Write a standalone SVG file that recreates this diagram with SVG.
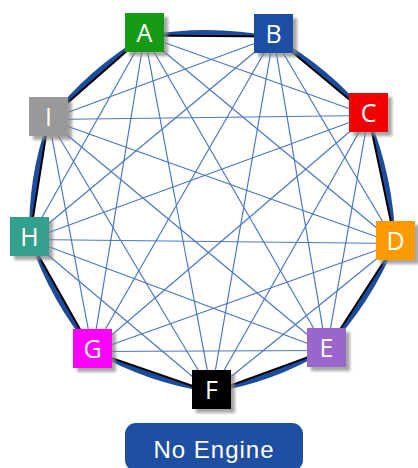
<svg xmlns="http://www.w3.org/2000/svg" width="418" height="468" viewBox="0 0 418 468">
<defs>
<filter id="sh" x="-20%" y="-20%" width="150%" height="150%">
<feDropShadow dx="4" dy="4" stdDeviation="1.5" flood-color="#888" flood-opacity="0.75"/>
</filter>
<style>
.e{stroke:#4a76c6;stroke-width:1.2;fill:none}
.rim{stroke:#000;stroke-width:2;fill:none}
.cres{fill:#1c4c9e;stroke:none}
.box{filter:url(#sh)}
.lbl{font-family:"Open Sans","DejaVu Sans",sans-serif;font-size:25px;fill:#fff;text-anchor:middle}
.btn{font-family:"Liberation Sans",Arial,sans-serif;font-size:24px;fill:#fff;text-anchor:middle;letter-spacing:1px}
</style>
</defs>
<rect width="418" height="468" fill="#fff"/>
<g id="connectors">
<g id="chords">
<line class="e" x1="144.5" y1="35.5" x2="368.5" y2="115.5"/>
<line class="e" x1="144.5" y1="35.5" x2="395.5" y2="243.5"/>
<line class="e" x1="144.5" y1="35.5" x2="326.5" y2="350.5"/>
<line class="e" x1="144.5" y1="35.5" x2="211.5" y2="392.5"/>
<line class="e" x1="144.5" y1="35.5" x2="92.5" y2="351.5"/>
<line class="e" x1="144.5" y1="35.5" x2="29.5" y2="239.5"/>
<line class="e" x1="273.5" y1="36.5" x2="395.5" y2="243.5"/>
<line class="e" x1="273.5" y1="36.5" x2="326.5" y2="350.5"/>
<line class="e" x1="273.5" y1="36.5" x2="211.5" y2="392.5"/>
<line class="e" x1="273.5" y1="36.5" x2="92.5" y2="351.5"/>
<line class="e" x1="273.5" y1="36.5" x2="29.5" y2="239.5"/>
<line class="e" x1="273.5" y1="36.5" x2="48.5" y2="119.5"/>
<line class="e" x1="368.5" y1="115.5" x2="326.5" y2="350.5"/>
<line class="e" x1="368.5" y1="115.5" x2="211.5" y2="392.5"/>
<line class="e" x1="368.5" y1="115.5" x2="92.5" y2="351.5"/>
<line class="e" x1="368.5" y1="115.5" x2="29.5" y2="239.5"/>
<line class="e" x1="368.5" y1="115.5" x2="48.5" y2="119.5"/>
<line class="e" x1="395.5" y1="243.5" x2="211.5" y2="392.5"/>
<line class="e" x1="395.5" y1="243.5" x2="92.5" y2="351.5"/>
<line class="e" x1="395.5" y1="243.5" x2="29.5" y2="239.5"/>
<line class="e" x1="395.5" y1="243.5" x2="48.5" y2="119.5"/>
<line class="e" x1="326.5" y1="350.5" x2="92.5" y2="351.5"/>
<line class="e" x1="326.5" y1="350.5" x2="29.5" y2="239.5"/>
<line class="e" x1="326.5" y1="350.5" x2="48.5" y2="119.5"/>
<line class="e" x1="211.5" y1="392.5" x2="29.5" y2="239.5"/>
<line class="e" x1="211.5" y1="392.5" x2="48.5" y2="119.5"/>
<line class="e" x1="92.5" y1="351.5" x2="48.5" y2="119.5"/>
</g>
<g id="rim">
<path class="cres" d="M144.5 35.5 Q209 24 273.5 36.5 Z"/>
<path class="cres" d="M273.5 36.5 Q328.6 66.7 368.5 115.5 Z"/>
<path class="cres" d="M368.5 115.5 Q393.8 177.3 395.5 243.5 Z"/>
<path class="cres" d="M395.5 243.5 Q371.5 302.9 326.5 350.5 Z"/>
<path class="cres" d="M326.5 350.5 Q273.2 382.8 211.5 392.5 Z"/>
<path class="cres" d="M211.5 392.5 Q147.9 383.3 92.5 351.5 Z"/>
<path class="cres" d="M92.5 351.5 Q50.5 301.4 29.5 239.5 Z"/>
<path class="cres" d="M29.5 239.5 Q27.2 177.3 48.5 119.5 Z"/>
<path class="cres" d="M48.5 119.5 Q88.8 68.3 144.5 35.5 Z"/>
<polygon class="rim" points="144.5,35.5 273.5,36.5 368.5,115.5 395.5,243.5 326.5,350.5 211.5,392.5 92.5,351.5 29.5,239.5 48.5,119.5"/>
</g>
</g>
<g id="A"><rect class="box" x="125" y="13" width="39" height="39" fill="#139a13"/><text class="lbl" x="144.5" y="41.5">A</text></g>
<g id="B"><rect class="box" x="254" y="14" width="39" height="39" fill="#1d4fa4"/><text class="lbl" x="273.5" y="42.5">B</text></g>
<g id="C"><rect class="box" x="349" y="93" width="39" height="39" fill="#f00000"/><text class="lbl" x="368.5" y="121.5">C</text></g>
<g id="D"><rect class="box" x="376" y="221" width="39" height="39" fill="#ff9900"/><text class="lbl" x="395.5" y="249.5">D</text></g>
<g id="E"><rect class="box" x="307" y="328" width="39" height="39" fill="#9966cc"/><text class="lbl" x="326.5" y="356.5">E</text></g>
<g id="F"><rect class="box" x="192" y="370" width="39" height="39" fill="#000"/><text class="lbl" x="211.5" y="398.5">F</text></g>
<g id="G"><rect class="box" x="73" y="329" width="39" height="39" fill="#ff00ff"/><text class="lbl" x="92.5" y="357.5">G</text></g>
<g id="H"><rect class="box" x="10" y="217" width="39" height="39" fill="#33a08c"/><text class="lbl" x="29.5" y="245.5">H</text></g>
<g id="I"><rect class="box" x="29" y="97" width="39" height="39" fill="#999999"/><text class="lbl" x="48.5" y="125.5">I</text></g>
<g id="button"><rect x="125" y="423" width="178" height="48" rx="11" fill="#1f4fa3"/><text class="btn" x="214" y="458">No Engine</text></g>
</svg>
